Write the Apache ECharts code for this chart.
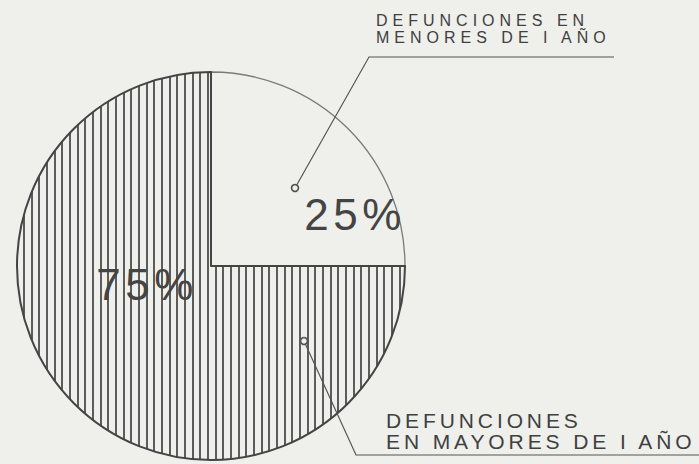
<!DOCTYPE html>
<html>
<head>
<meta charset="utf-8">
<script src="https://cdn.jsdelivr.net/npm/echarts@6/dist/echarts.min.js"></script>
<style>
  html, body { margin: 0; padding: 0; background: #efefec; }
  #chart { width: 699px; height: 464px; }
  /* stencil-style lettering: wide letter spacing */
  #chart svg text { letter-spacing: 4.5px; }
  #chart svg text[style*="21px"] { letter-spacing: 3.9px; }
  #chart svg text[style*="16px"] { letter-spacing: 5px; }
</style>
</head>
<body>
<div id="chart"></div>
<script>
// Deaths by age group (percent of total)
const categories = ['DEFUNCIONES EN\nMENORES DE I AÑO', 'DEFUNCIONES\nEN MAYORES DE I AÑO'];
const shares = [25, 75];

const PAPER = '#efefec';

// vertical hatching used for the larger slice
function hatchPattern() {
  const c = document.createElement('canvas');
  c.width = 23; c.height = 4;
  const g = c.getContext('2d');
  g.fillStyle = PAPER;
  g.fillRect(0, 0, 23, 4);
  g.fillStyle = '#5c5c5c';
  [0, 8, 15].forEach(function (x) { g.fillRect(x, 0, 2, 4); });
  return { image: c, repeat: 'repeat', imageWidth: 23, imageHeight: 4 };
}

const center = [211, 266];
const radius = 194;

// callout anchors (small rings) and label placement
const callouts = [
  { ring: [295, 188], elbow: [369, 57], end: [614, 57], label: [376, 28.5] },
  { ring: [304, 341], elbow: [356, 455], end: [699, 455], label: [386, 431] }
];
const pctPos = [[355, 214], [147, 284]];

const chart = echarts.init(document.getElementById('chart'), null, { renderer: 'svg' });

const fills = [
  { color: PAPER, borderColor: '#7a7a7a', borderWidth: 1.3 },
  { color: hatchPattern(), borderColor: '#444', borderWidth: 2 }
];

chart.setOption({
  backgroundColor: PAPER,
  animation: false,
  series: [
    {
      type: 'pie',
      center: center,
      radius: radius,
      startAngle: 90,
      clockwise: true,
      silent: true,
      data: shares.map(function (v, i) {
        return { name: categories[i], value: v, itemStyle: fills[i] };
      }),
      label: {
        show: true,
        position: 'inside',
        formatter: '{c}%',
        fontFamily: 'Liberation Sans',
        fontSize: 44,
        color: '#444'
      },
      labelLine: { show: false },
      labelLayout: function (p) {
        const pos = pctPos[p.dataIndex];
        return { x: pos[0], y: pos[1], align: 'center', verticalAlign: 'middle' };
      }
    },
    {
      type: 'pie',
      center: center,
      radius: radius,
      startAngle: 90,
      clockwise: true,
      silent: true,
      z: 3,
      itemStyle: { color: 'rgba(0,0,0,0)', borderWidth: 0 },
      label: {
        show: true,
        position: 'outside',
        formatter: '{b}',
        fontFamily: 'Liberation Sans',
        color: '#404040',
        align: 'left',
        overflow: 'none'
      },
      labelLine: {
        show: true,
        lineStyle: { color: '#555', width: 1.2 }
      },
      data: shares.map(function (v, i) {
        return {
          name: categories[i],
          value: v,
          label: i === 0
            ? { fontSize: 16, lineHeight: 17, width: 260 }
            : { fontSize: 21, lineHeight: 21, width: 320 }
        };
      }),
      labelLayout: function (p) {
        const c = callouts[p.dataIndex];
        return {
          x: c.label[0],
          y: c.label[1],
          align: 'left',
          verticalAlign: 'middle',
          labelLinePoints: [c.ring, c.elbow, c.end]
        };
      }
    }
  ],
  graphic: callouts.map(function (c) {
    return {
      type: 'circle',
      z: 10,
      shape: { cx: c.ring[0], cy: c.ring[1], r: 3.5 },
      style: { fill: PAPER, stroke: '#505050', lineWidth: 1.6 }
    };
  })
});
</script>
</body>
</html>
